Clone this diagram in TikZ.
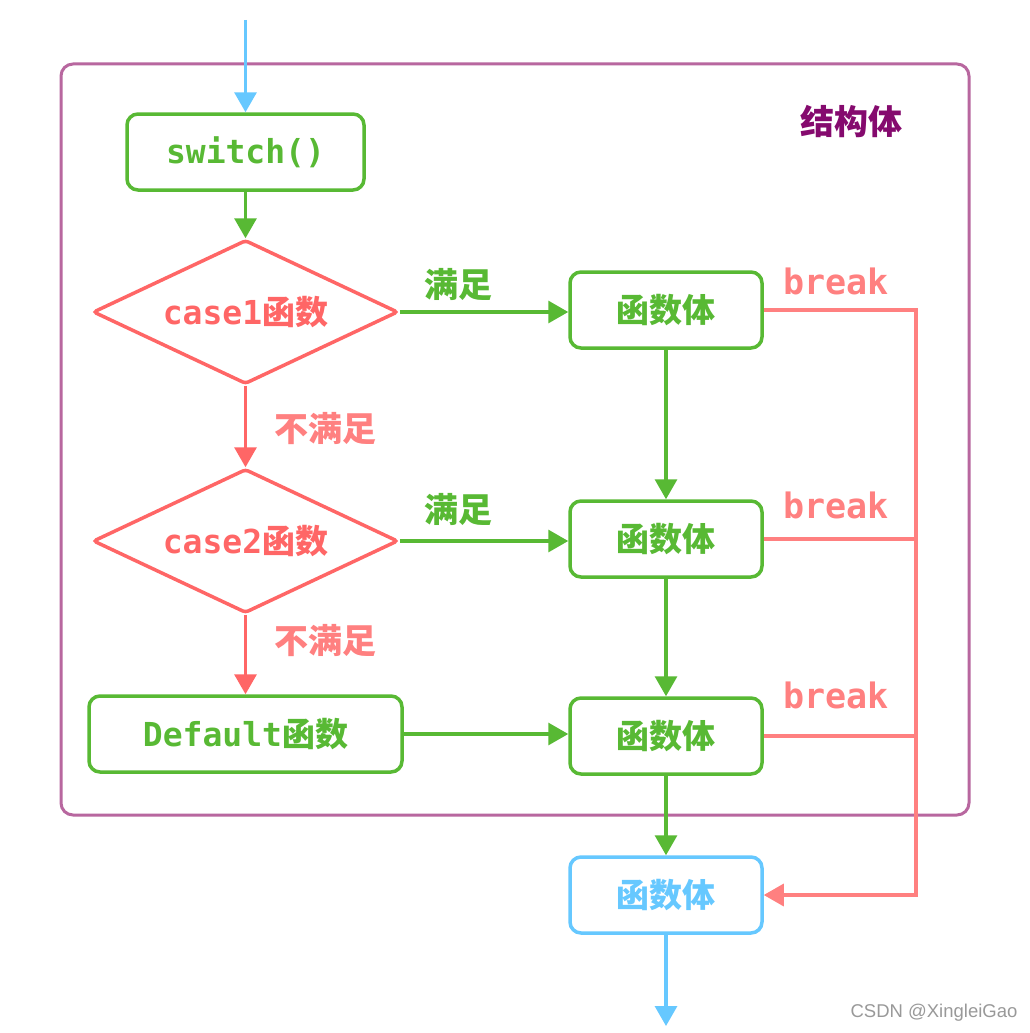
\documentclass[tikz,border=0pt]{standalone}
\usepackage{fontspec}
\setmainfont{DejaVu Sans Mono}
\newfontfamily\cjk{Noto Sans CJK SC}
\newfontfamily\wmfont{Liberation Sans}
\usetikzlibrary{arrows.meta,shapes.geometric}
\definecolor{cgreen}{HTML}{58B934}
\definecolor{cred}{HTML}{FF6666}
\definecolor{clred}{HTML}{FF8080}
\definecolor{cblue}{HTML}{66C8FF}
\definecolor{cpurple}{HTML}{B8679F}
\definecolor{cdark}{HTML}{850A6E}
\tikzset{
  x=1pt, y=-1pt,
  tip/.style={-{Triangle[length=20pt,width=22pt]}},
  conn/.style={line width=3.2pt, tip},
  box/.style={draw, line width=3.5pt, rounded corners=11pt, minimum width=192pt, minimum height=76pt, inner sep=0pt, font=\bfseries\fontsize{33}{38}\selectfont},
  dia/.style={draw=cred, text=cred, line width=3.5pt, diamond, aspect=2.12, minimum width=305pt, minimum height=144pt, inner sep=0pt, rounded corners=3pt, font=\bfseries\fontsize{33}{38}\selectfont},
  lbl/.style={font=\cjk\bfseries\fontsize{34}{38}\selectfont, inner sep=0pt},
  brk/.style={text=clred, font=\bfseries\fontsize{35}{38}\selectfont, inner sep=0pt},
}
\begin{document}
\begin{tikzpicture}
\useasboundingbox[fill=white] (0,0) rectangle (1030,1033);
% frame
\node[draw=cpurple, line width=3pt, rounded corners=12pt, minimum width=908pt, minimum height=751pt, inner sep=0pt] (frame) at (515,439.5) {};
\node[lbl, text=cdark] (title) at (851,122) {结构体};
% nodes
\coordinate (start) at (245.5,20);
\node[box, draw=cgreen, text=cgreen, minimum width=237pt] (sw) at (245.5,152) {switch()};
\node[dia] (d1) at (245.5,312) {case1{\cjk\bfseries 函数}};
\node[dia] (d2) at (245.5,541) {case2{\cjk\bfseries 函数}};
\node[box, draw=cgreen, text=cgreen, minimum width=313pt] (def) at (245.5,734) {Default{\cjk\bfseries 函数}};
\node[box, draw=cgreen, text=cgreen] (b1) at (666,310) {\cjk\bfseries 函数体};
\node[box, draw=cgreen, text=cgreen] (b2) at (666,539) {\cjk\bfseries 函数体};
\node[box, draw=cgreen, text=cgreen] (b3) at (666,736) {\cjk\bfseries 函数体};
\node[box, draw=cblue, text=cblue] (b4) at (666,895) {\cjk\bfseries 函数体};
\coordinate (end) at (666,1026);
\coordinate (j) at (916,895);
% connectors
\draw[conn, cblue] (start) -- (sw.north);
\draw[conn, cgreen] (sw.south) -- (d1.north);
\draw[conn, cgreen] (d1.east) -- (d1.east -| b1.west);
\draw[conn, cgreen] (d2.east) -- (d2.east -| b2.west);
\draw[conn, cgreen] (def.east) -- (def.east -| b3.west);
\draw[conn, cred] (d1.south) -- (d2.north);
\draw[conn, cred] (d2.south) -- (def.north);
\draw[conn, cgreen] (b1.south) -- (b2.north);
\draw[conn, cgreen] (b2.south) -- (b3.north);
\draw[conn, cgreen] (b3.south) -- (b4.north);
\draw[conn, cblue] (b4.south) -- (end);
\draw[conn, clred, line join=miter] (b1.east) -| (j) -- (b4.east);
\draw[line width=3.2pt, clred] (b2.east) -- (b2.east -| j);
\draw[line width=3.2pt, clred] (b3.east) -- (b3.east -| j);
% labels
\node[lbl, text=cgreen] (y1) at (458,284) {满足};
\node[lbl, text=cgreen] (y2) at (458,509) {满足};
\node[lbl, text=clred] (n1) at (325,429) {不满足};
\node[lbl, text=clred] (n2) at (325,641) {不满足};
\node[brk] (k1) at (836,281) {break};
\node[brk] (k2) at (836,505) {break};
\node[brk] (k3) at (836,695) {break};
\node[text=gray!80, font=\wmfont\fontsize{18.5}{20}\selectfont, inner sep=0pt] (wm) at (934,1013) {CSDN @XingleiGao};
\end{tikzpicture}
\end{document}
